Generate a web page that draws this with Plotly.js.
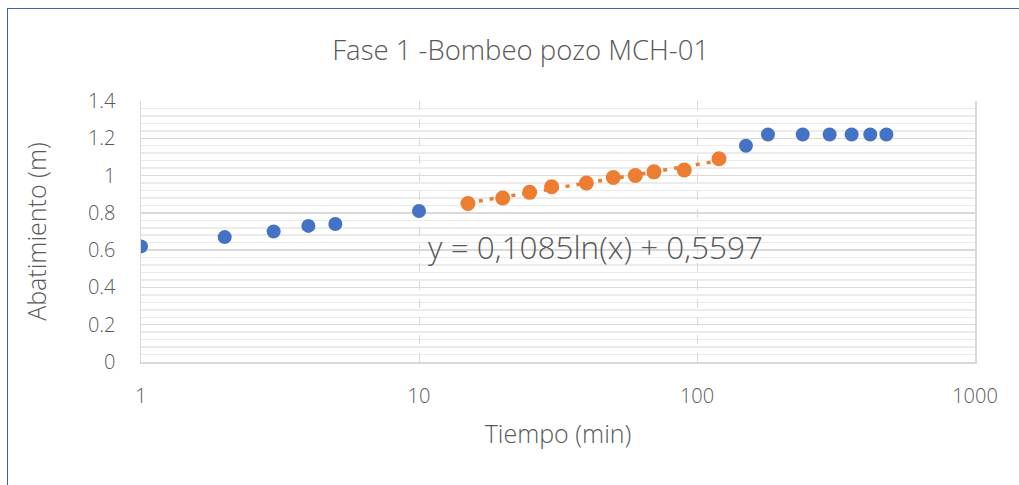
<!DOCTYPE html>
<html>
<head>
<meta charset="utf-8">
<script src="https://cdn.plot.ly/plotly-3.0.1.min.js"></script>
<style>
  html, body { margin: 0; padding: 0; background: #ffffff; overflow: hidden; }
  #wrap { position: relative; width: 1019px; height: 485px; }
  #chart { width: 1019px; height: 485px; }
  #frame { position: absolute; left: 7px; top: 8px; width: 1100px; height: 600px;
           border: 1.5px solid #3E62AD; pointer-events: none; box-sizing: border-box; }
</style>
</head>
<body>
<div id="wrap">
  <div id="chart"></div>
  <div id="frame"></div>
</div>
<script>
// Data
const earlyTime = [1, 2, 3, 4, 5, 10];
const earlyDrawdown = [0.62, 0.67, 0.70, 0.73, 0.74, 0.81];

const fitTime = [15, 20, 25, 30, 40, 50, 60, 70, 90, 120];
const fitDrawdown = [0.85, 0.88, 0.91, 0.94, 0.96, 0.99, 1.00, 1.02, 1.03, 1.09];

const lateTime = [150, 180, 240, 300, 360, 420, 480];
const lateDrawdown = [1.16, 1.22, 1.22, 1.22, 1.22, 1.22, 1.22];

// Logarithmic trendline coefficients (as shown on chart)
const trendSlope = 0.1085;
const trendIntercept = 0.5597;
const trendLabel = "y = 0,1085ln(x) + 0,5597";
const trendTime = [fitTime[0], fitTime[fitTime.length - 1]];
const trendValues = trendTime.map(t => trendSlope * Math.log(t) + trendIntercept);

const chartTitle = "Fase 1 -Bombeo pozo MCH-01";
const xTitle = "Tiempo (min)";
const yTitle = "Abatimiento (m)";
const xTickVals = [1, 10, 100, 1000];
const xTickText = ["1", "10", "100", "1000"];

const FONT = "Open Sans, Noto Sans, sans-serif";
const W = 300;
const TXT = "#595959";
const BLUE = "#4472C4";
const ORANGE = "#ED7D31";

const traces = [
  { x: trendTime, y: trendValues, type: "scatter", mode: "lines",
    line: { color: ORANGE, width: 3.5, dash: "4px,7px" }, hoverinfo: "skip", showlegend: false },
  { x: earlyTime, y: earlyDrawdown, type: "scatter", mode: "markers",
    marker: { color: BLUE, size: 14 }, showlegend: false },
  { x: fitTime, y: fitDrawdown, type: "scatter", mode: "markers",
    marker: { color: ORANGE, size: 15 }, showlegend: false },
  { x: lateTime, y: lateDrawdown, type: "scatter", mode: "markers",
    marker: { color: BLUE, size: 14 }, showlegend: false }
];

const layout = {
  width: 1019, height: 485,
  margin: { l: 141, r: 44, t: 101, b: 123, pad: 0 },
  paper_bgcolor: "#ffffff", plot_bgcolor: "#ffffff",
  font: { family: FONT, color: TXT, weight: W },
  title: { text: chartTitle, x: 0.511, xanchor: "center", y: 0.897, yanchor: "middle",
           font: { family: FONT, size: 27.5, color: TXT, weight: W } },
  xaxis: {
    type: "log", range: [0, 3],
    tickvals: xTickVals, ticktext: xTickText,
    showgrid: true, gridcolor: "#D9D9D9", griddash: "dash", gridwidth: 1,
    showline: true, linecolor: "#D9D9D9", linewidth: 1.5, mirror: false,
    zeroline: false, ticks: "", ticklabelstandoff: 15,
    tickfont: { family: FONT, size: 20, color: TXT, weight: W },
    title: { text: xTitle, standoff: 18, font: { family: FONT, size: 25, color: TXT, weight: W } }
  },
  yaxis: {
    range: [0, 1.4], dtick: 0.2, tick0: 0,
    showgrid: true, gridcolor: "#D9D9D9", gridwidth: 1.5,
    minor: { dtick: 0.04, tick0: 0, showgrid: true, gridcolor: "#EBEBEB", gridwidth: 1.5, ticks: "" },
    showline: true, linecolor: "#D9D9D9", linewidth: 1.5, mirror: true,
    zeroline: false, ticks: "", ticklabelstandoff: 20,
    tickfont: { family: FONT, size: 20, color: TXT, weight: W },
    title: { text: yTitle, standoff: 34, font: { family: FONT, size: 25, color: TXT, weight: W } }
  },
  annotations: [
    { text: trendLabel, xref: "paper", yref: "y", x: 0.342, y: 0.617,
      xanchor: "left", yanchor: "middle", showarrow: false,
      font: { family: FONT, size: 31.5, color: TXT, weight: W } }
  ]
};

Plotly.newPlot("chart", traces, layout, { staticPlot: true, displayModeBar: false });
</script>
</body>
</html>
